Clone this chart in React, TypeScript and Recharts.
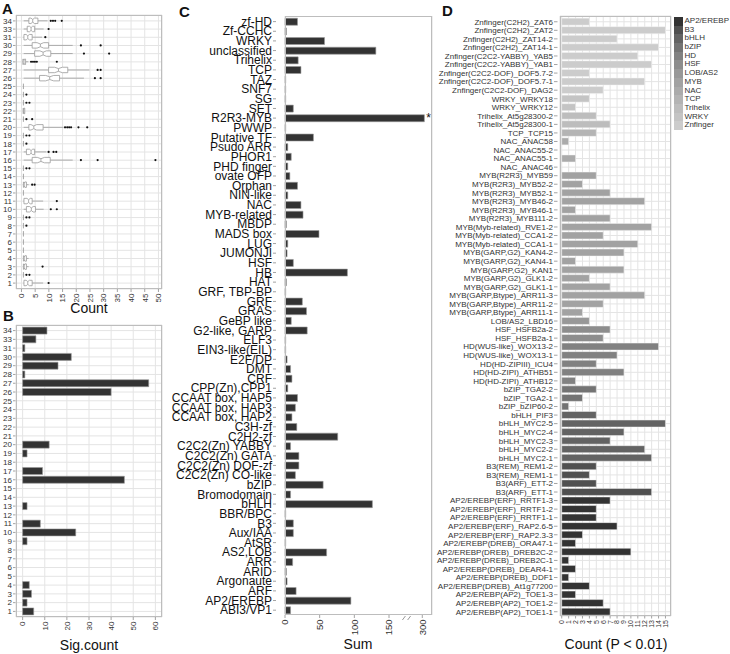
import React from 'react';
import { BarChart, Bar, XAxis, YAxis, CartesianGrid, Cell, LabelList } from 'recharts';

const FONT = '"Liberation Sans", Arial, Helvetica, sans-serif';
const AXIS_GREY = '#8c8c8c';
const GRID_MAJOR = '#e4e4e4';
const GRID_MINOR = '#f3f3f3';
const BORDER = '#bdbdbd';
const BAR_DARK = '#333333';

// ---- A / B : clusters, top to bottom
const clusters = ['34','33','31','30','29','28','27','26','25','24','23','22','21','20','19','18','17','16','15','14','13','12','11','10','9','8','7','6','5','4','3','2','1'];
const boxLo  = [0.8,0.8,0.8,0.8,0.8,0.8,0.8,0.8,0.7,0.7,0.7,0.6,0.7,0.8,0.7,0.7,0.8,0.8,0.7,0.7,0.7,0.7,0.8,0.8,0.7,0.7,0.7,0.7,0.7,0.7,0.7,0.7,0.8];
const boxQ1  = [2.7,2.1,0.9,3.9,4.8,0.5,9.9,6.6,0.7,0.7,0.7,0.6,0.7,2.7,0.7,0.7,1.8,3.9,0.7,0.7,0.7,0.7,0.9,1.8,0.7,0.7,0.7,0.7,0.7,0.7,0.7,0.7,0.9];
const boxMed = [4.1,3.5,2.3,6.9,7.9,0.9,13.5,10.3,0.7,0.7,0.7,0.8,0.7,4.5,0.7,0.7,3.5,7.1,0.7,0.7,1.0,0.7,2.6,3.6,0.7,0.7,0.7,0.7,0.7,1.0,1.0,0.7,2.3];
const boxQ3  = [6.0,4.8,3.9,9.9,10.7,1.5,16.9,13.9,0.7,0.7,0.7,1.2,0.7,7.9,0.7,0.7,4.8,10.5,0.7,0.7,1.8,0.7,3.9,5.1,0.7,0.7,0.7,0.7,0.7,1.8,1.8,0.7,3.9];
const boxHi  = [9.5,8.1,7.5,18.7,18.7,2.5,24.8,22.8,0.7,0.7,0.7,1.2,0.7,15.3,0.7,0.7,9.1,18.7,0.7,0.7,2.6,0.7,7.9,8.1,0.7,0.7,0.7,0.7,0.7,2.6,2.6,0.7,7.9];
const boxOut = [[10.7,11.5,12.3,14.7],[9.9],[8.7],[21.7,28.9],[22.8,32],[3.5,4.2,4.9,5.6,12.9],[27.8,28.9],[26.8,28.9],[],[1.8],[1.8,2.9],[],[1.8,3.9],[15.9,16.7,17.4,18.1,20.8,24.0],[1.8,2.9],[1.8],[9.9,11.7,12.7],[21.7,27.8,48.9],[1.8,2.9],[],[3.9,4.8],[],[12.9],[10.7,12.9],[1.8,2.9],[1.8],[],[],[],[],[7.7],[1.8,2.9],[9.9]];
const countTicks = [0,5,10,15,20,25,30,35,40,45,50];
const countMinor = [2.5,7.5,12.5,17.5,22.5,27.5,32.5,37.5,42.5,47.5];

const sigCount = [11,6,1,22,16,1,57,40,0,0,0,0,0,12,2,0,9,46,0,0,2,0,8,24,2,0,0,0,0,3,4,2,5];
const sigTicks = [0,10,20,30,40,50,60];
const sigMinor = [5,15,25,35,45,55];

// ---- C : TF families
const tfFamilies = ['zf-HD','Zf-CCHC','WRKY','unclassified','Trihelix','TCP','TAZ','SNF7','SG','SET','R2R3-MYB','PWWP','Putative TF','Psudo ARR','PHOR1','PHD finger','ovate OFP','Orphan','NIN-like','NAC','MYB-related','MBDP','MADS box','LUG','JUMONJI','HSF','HB','HAT','GRF, TBP-BP','GRF','GRAS','GeBP like','G2-like, GARP','ELF3','EIN3-like(EIL)','E2F/DP','DMT','CRF','CPP(Zn),CPP1','CCAAT box, HAP5','CCAAT box, HAP3','CCAAT box, HAP2','C3H-zf','C2H2-zf','C2C2(Zn) YABBY','C2C2(Zn) GATA','C2C2(Zn) DOF-zf','C2C2(Zn) CO-like','bZIP','Bromodomain','bHLH','BBR/BPC','B3','Aux/IAA','AtSR','AS2,LOB','ARR','ARID','Argonaute','ARF','AP2/EREBP','ABI3/VP1'];
const familySum = [18,2,57,131,19,23,1,1,1,12,303,1,41,4,9,4,7,18,4,23,26,2,49,4,3,12,90,2,1,25,31,9,32,1,1,3,8,10,4,18,15,10,17,76,8,20,20,15,55,8,126,1,12,12,1,60,11,2,3,16,95,8];
const starred = ['R2R3-MYB'];
const sumTicks = [0,50,100,150,300];
const sumMinor = [25,75,125,175];

// broken axis: values above 175 are pulled left so that 300 sits just after the break
const BREAK_LOW = 175;
const BREAK_SHIFT = 102;
const BREAK_MARKS = [171.5, 179];
const squeeze = (v: number) => (v > BREAK_LOW ? v - BREAK_SHIFT : v);

// ---- D : TFs with P < 0.01
const tfNames = ['Znfinger(C2H2)_ZAT6','Znfinger(C2H2)_ZAT2','Znfinger(C2H2)_ZAT14-2','Znfinger(C2H2)_ZAT14-1','Znfinger(C2C2-YABBY)_YAB5','Znfinger(C2C2-YABBY)_YAB1','Znfinger(C2C2-DOF)_DOF5.7-2','Znfinger(C2C2-DOF)_DOF5.7-1','Znfinger(C2C2-DOF)_DAG2','WRKY_WRKY18','WRKY_WRKY12','Trihelix_At5g28300-2','Trihelix_At5g28300-1','TCP_TCP15','NAC_ANAC58','NAC_ANAC55-2','NAC_ANAC55-1','NAC_ANAC46','MYB(R2R3)_MYB59','MYB(R2R3)_MYB52-2','MYB(R2R3)_MYB52-1','MYB(R2R3)_MYB46-2','MYB(R2R3)_MYB46-1','MYB(R2R3)_MYB111-2','MYB(Myb-related)_RVE1-2','MYB(Myb-related)_CCA1-2','MYB(Myb-related)_CCA1-1','MYB(GARP,G2)_KAN4-2','MYB(GARP,G2)_KAN4-1','MYB(GARP,G2)_KAN1','MYB(GARP,G2)_GLK1-2','MYB(GARP,G2)_GLK1-1','MYB(GARP,Btype)_ARR11-3','MYB(GARP,Btype)_ARR11-2','MYB(GARP,Btype)_ARR11-1','LOB/AS2_LBD16','HSF_HSFB2a-2','HSF_HSFB2a-1','HD(WUS-like)_WOX13-2','HD(WUS-like)_WOX13-1','HD(HD-ZIPIII)_ICU4','HD(HD-ZIPI)_ATHB51','HD(HD-ZIPI)_ATHB12','bZIP_TGA2-2','bZIP_TGA2-1','bZIP_bZIP60-2','bHLH_PIF3','bHLH_MYC2-5','bHLH_MYC2-4','bHLH_MYC2-3','bHLH_MYC2-2','bHLH_MYC2-1','B3(REM)_REM1-2','B3(REM)_REM1-1','B3(ARF)_ETT-2','B3(ARF)_ETT-1','AP2/EREBP(ERF)_RRTF1-3','AP2/EREBP(ERF)_RRTF1-2','AP2/EREBP(ERF)_RRTF1-1','AP2/EREBP(ERF)_RAP2.6-5','AP2/EREBP(ERF)_RAP2.3-3','AP2/EREBP(DREB)_ORA47-1','AP2/EREBP(DREB)_DREB2C-2','AP2/EREBP(DREB)_DREB2C-1','AP2/EREBP(DREB)_DEAR4-1','AP2/EREBP(DREB)_DDF1','AP2/EREBP(DREB)_At1g77200','AP2/EREBP(AP2)_TOE1-3','AP2/EREBP(AP2)_TOE1-2','AP2/EREBP(AP2)_TOE1-1'];
const tfCount = [4,15,8,14,11,13,4,12,6,4,2,5,7,5,1,0,2,0,5,3,7,12,2,7,13,6,11,9,2,9,4,7,12,6,3,4,7,6,14,8,5,9,2,5,3,1,5,15,9,7,12,13,5,4,5,13,7,5,5,8,3,2,10,1,2,1,4,2,6,7];
const pTicks = [0,1,2,3,4,5,6,7,8,9,10,11,12,13,14,15];
const pMinor = [0.5,1.5,2.5,3.5,4.5,5.5,6.5,7.5,8.5,9.5,10.5,11.5,12.5,13.5,14.5,15.5];
const legendFamilies = ['AP2/EREBP','B3','bHLH','bZIP','HD','HSF','LOB/AS2','MYB','NAC','TCP','Trihelix','WRKY','Znfinger'];
const legendGreys = ['#333333','#505050','#636363','#737373','#818181','#8d8d8d','#989898','#a2a2a2','#ababab','#b4b4b4','#bdbdbd','#c4c4c4','#cccccc'];

const YTick = (props: any) => {
  const { x, y, payload, size, color, dash } = props;
  return (
    <g>
      <text x={x} y={y} dy="0.35em" textAnchor="end" fontSize={size} fill={color} fontFamily={FONT}>
        {payload.value}
      </text>
      <line x1={x + 1} x2={x + 1 + dash} y1={y} y2={y} stroke={AXIS_GREY} strokeWidth={0.8} />
    </g>
  );
};

const XTick = (props: any) => {
  const { x, y, payload, size, color, len, label } = props;
  const v = payload.value;
  if (BREAK_MARKS.includes(v) && label) {
    return <line x1={x - 1.5} x2={x + 1.5} y1={y + 5} y2={y + 1} stroke={AXIS_GREY} strokeWidth={0.9} />;
  }
  const ty = y + len + 1.5;
  const text = label ? label(v) : String(v);
  return (
    <g>
      <line x1={x} x2={x} y1={y} y2={y + len} stroke={AXIS_GREY} strokeWidth={0.8} />
      <text x={x} y={ty} dy="0.35em" textAnchor="end" transform={`rotate(-90 ${x} ${ty})`} fontSize={size} fill={color} fontFamily={FONT}>
        {text}
      </text>
    </g>
  );
};

// notched box plot drawn from the bar's own scale (bar spans 0..BOX_REF)
const BOX_REF = 50;
const BoxShape = (props: any) => {
  const { x, y, width, height, payload } = props;
  const k = width / BOX_REF;
  const px = (v: number) => x + v * k;
  const cy = y + height / 2;
  const hh = height * 0.34;
  const { lo, q1, med, q3, hi, out } = payload;
  const iqr = q3 - q1;
  const nl = Math.max(q1, med - iqr * 0.2);
  const nr = Math.min(q3, med + iqr * 0.2);
  const box = iqr > 0.15
    ? `M${px(q1)},${cy - hh}L${px(nl)},${cy - hh}L${px(med)},${cy - hh / 2}L${px(nr)},${cy - hh}L${px(q3)},${cy - hh}L${px(q3)},${cy + hh}L${px(nr)},${cy + hh}L${px(med)},${cy + hh / 2}L${px(nl)},${cy + hh}L${px(q1)},${cy + hh}Z`
    : null;
  return (
    <g>
      <line x1={px(lo)} x2={px(q1)} y1={cy} y2={cy} stroke="#9a9a9a" strokeWidth={0.8} />
      <line x1={px(q3)} x2={px(hi)} y1={cy} y2={cy} stroke="#9a9a9a" strokeWidth={0.8} />
      {box ? (
        <g>
          <path d={box} fill="#fff" stroke="#9a9a9a" strokeWidth={0.8} />
          <line x1={px(med)} x2={px(med)} y1={cy - hh / 2} y2={cy + hh / 2} stroke="#9a9a9a" strokeWidth={0.8} />
        </g>
      ) : (
        <line x1={px(q1)} x2={px(q1)} y1={cy - hh} y2={cy + hh} stroke="#9a9a9a" strokeWidth={0.9} />
      )}
      {out.map((o: number, i: number) => (
        <circle key={i} cx={px(o)} cy={cy} r={1.1} fill="#111" />
      ))}
    </g>
  );
};

const Letter = ({ t, left, top }: any) => (
  <div style={{ position: 'absolute', left, top, fontSize: 15, lineHeight: '15px', fontWeight: 700 }}>{t}</div>
);
const Title = ({ t, cx, top }: any) => (
  <div style={{ position: 'absolute', left: cx - 80, width: 160, top, textAlign: 'center', fontSize: 14, lineHeight: '14px' }}>{t}</div>
);
const Frame = ({ left, top, width, height }: any) => (
  <div style={{ position: 'absolute', left, top, width, height, boxSizing: 'border-box', border: `1px solid ${BORDER}`, pointerEvents: 'none' }} />
);

export default function App() {
  const aRows = clusters.map((c, i) => ({ c, lo: boxLo[i], q1: boxQ1[i], med: boxMed[i], q3: boxQ3[i], hi: boxHi[i], out: boxOut[i] }));
  const bRows = clusters.map((c, i) => ({ c, n: sigCount[i] }));
  const cRows = tfFamilies.map((f, i) => ({ f, s: squeeze(familySum[i]), note: starred.includes(f) ? '*' : '' }));
  const dRows = tfNames.map((t, i) => ({ t, n: tfCount[i], fam: t.split(/[(_]/)[0] }));
  const sumLabel = (v: number) => {
    const hit = sumTicks.find((s) => squeeze(s) === v);
    return hit === undefined ? '' : String(hit);
  };

  return (
    <div style={{ position: 'absolute', left: 0, top: 0, width: 730, height: 654, background: '#fff', fontFamily: FONT, overflow: 'hidden', color: '#111' }}>
      {/* A */}
      <div style={{ position: 'absolute', left: 0, top: 0 }}>
        <BarChart width={170} height={302} data={aRows} layout="vertical" barCategoryGap={0} margin={{ top: 15, right: 8, bottom: 0, left: 0 }}>
          <XAxis xAxisId="minor" type="number" domain={[-2, 51.3]} ticks={countMinor} hide />
          <CartesianGrid xAxisId="minor" horizontal={false} stroke={GRID_MINOR} />
          <CartesianGrid xAxisId="main" stroke={GRID_MAJOR} />
          <XAxis xAxisId="main" type="number" domain={[-2, 51.3]} ticks={countTicks} interval={0} height={13} tickSize={0} tickMargin={0} axisLine={false}
            tick={(p: any) => <XTick {...p} size={8} color="#333" len={3} />} />
          <YAxis type="category" dataKey="c" width={16} interval={0} tickSize={0} tickMargin={4} axisLine={false} padding={{ top: 1.8, bottom: 1.8 }}
            tick={(p: any) => <YTick {...p} size={8} color="#333" dash={2.5} />} />
          <Bar xAxisId="main" dataKey={() => BOX_REF} shape={BoxShape} isAnimationActive={false} />
        </BarChart>
      </div>
      <Frame left={16} top={15} width={146} height={274} />
      <Letter t="A" left={2} top={1} />
      <Title t="Count" cx={89} top={301} />

      {/* B */}
      <div style={{ position: 'absolute', left: 0, top: 300 }}>
        <BarChart width={170} height={340} data={bRows} layout="vertical" barCategoryGap="10%" margin={{ top: 25, right: 8, bottom: 0, left: 0 }}>
          <XAxis xAxisId="minor" type="number" domain={[-3, 63]} ticks={sigMinor} hide />
          <CartesianGrid xAxisId="minor" horizontal={false} stroke={GRID_MINOR} />
          <CartesianGrid xAxisId="main" stroke={GRID_MAJOR} />
          <XAxis xAxisId="main" type="number" domain={[-3, 63]} ticks={sigTicks} interval={0} height={23} tickSize={0} tickMargin={0} axisLine={false}
            tick={(p: any) => <XTick {...p} size={8} color="#333" len={3} />} />
          <YAxis type="category" dataKey="c" width={16} interval={0} tickSize={0} tickMargin={4} axisLine={false} padding={{ top: 1.2, bottom: 1.2 }}
            tick={(p: any) => <YTick {...p} size={8} color="#333" dash={2.5} />} />
          <Bar xAxisId="main" dataKey="n" fill={BAR_DARK} stroke="#9a9a9a" strokeWidth={0.6} isAnimationActive={false} />
        </BarChart>
      </div>
      <Frame left={16} top={325} width={146} height={292} />
      <Letter t="B" left={3} top={308} />
      <Title t="Sig.count" cx={89} top={638} />

      {/* C */}
      <div style={{ position: 'absolute', left: 166, top: 0 }}>
        <BarChart width={270} height={639} data={cRows} layout="vertical" barCategoryGap="15%" margin={{ top: 16, right: 4, bottom: 0, left: 0 }}>
          <XAxis xAxisId="minor" type="number" domain={[0, 212]} ticks={sumMinor.map(squeeze)} hide />
          <XAxis xAxisId="major" type="number" domain={[0, 212]} ticks={sumTicks.map(squeeze)} hide />
          <CartesianGrid xAxisId="minor" horizontal={false} stroke={GRID_MINOR} />
          <CartesianGrid xAxisId="major" horizontal={false} stroke={GRID_MAJOR} />
          <XAxis xAxisId="main" type="number" domain={[0, 212]} ticks={[...sumTicks.map(squeeze), ...BREAK_MARKS].sort((a, b) => a - b)} interval={0} height={24} tickSize={0} tickMargin={0} axisLine={false}
            tick={(p: any) => <XTick {...p} size={9.5} color="#333" len={3} label={sumLabel} />} />
          <YAxis type="category" dataKey="f" width={119} interval={0} tickSize={0} tickMargin={13} axisLine={false} padding={{ top: 0.8, bottom: 0 }}
            tick={(p: any) => <YTick {...p} size={12} color="#111" dash={3} />} />
          <Bar xAxisId="main" dataKey="s" fill={BAR_DARK} stroke="#9a9a9a" strokeWidth={0.6} isAnimationActive={false}>
            <LabelList dataKey="note" position="right" offset={2} fontSize={12} fill="#111" fontFamily={FONT} />
          </Bar>
        </BarChart>
      </div>
      <Frame left={285} top={16} width={147} height={599} />
      <Letter t="C" left={179} top={4} />
      <Title t="Sum" cx={358} top={637} />

      {/* D */}
      <div style={{ position: 'absolute', left: 430, top: 0 }}>
        <BarChart width={245} height={630} data={dRows} layout="vertical" barCategoryGap="8%" margin={{ top: 16, right: 4, bottom: 0, left: 0 }}>
          <XAxis xAxisId="minor" type="number" domain={[-0.25, 15.8]} ticks={pMinor} hide />
          <CartesianGrid xAxisId="minor" horizontal={false} stroke={GRID_MINOR} />
          <CartesianGrid xAxisId="main" stroke={GRID_MAJOR} />
          <XAxis xAxisId="main" type="number" domain={[-0.25, 15.8]} ticks={pTicks} interval={0} height={14} tickSize={0} tickMargin={0} axisLine={false}
            tick={(p: any) => <XTick {...p} size={7} color="#333" len={2.5} />} />
          <YAxis type="category" dataKey="t" width={130} interval={0} tickSize={0} tickMargin={7} axisLine={false} padding={{ top: 1.5, bottom: 0 }}
            tick={(p: any) => <YTick {...p} size={8} color="#333" dash={3.5} />} />
          <Bar xAxisId="main" dataKey="n" stroke="#f2f2f2" strokeWidth={0.5} isAnimationActive={false}>
            {dRows.map((r) => (
              <Cell key={r.t} fill={legendGreys[legendFamilies.indexOf(r.fam)]} />
            ))}
          </Bar>
        </BarChart>
      </div>
      <Frame left={560} top={16} width={111} height={600} />
      <Letter t="D" left={442} top={3} />
      <Title t="Count (P < 0.01)" cx={616} top={637} />

      <div style={{ position: 'absolute', left: 674, top: 17 }}>
        {legendFamilies.map((f, i) => (
          <div key={f} style={{ display: 'flex', alignItems: 'center', height: 8.7 }}>
            <div style={{ width: 9, height: 8.7, background: legendGreys[i] }} />
            <span style={{ fontSize: 8, lineHeight: '8.7px', marginLeft: 1.5, color: '#333' }}>{f}</span>
          </div>
        ))}
      </div>
    </div>
  );
}
